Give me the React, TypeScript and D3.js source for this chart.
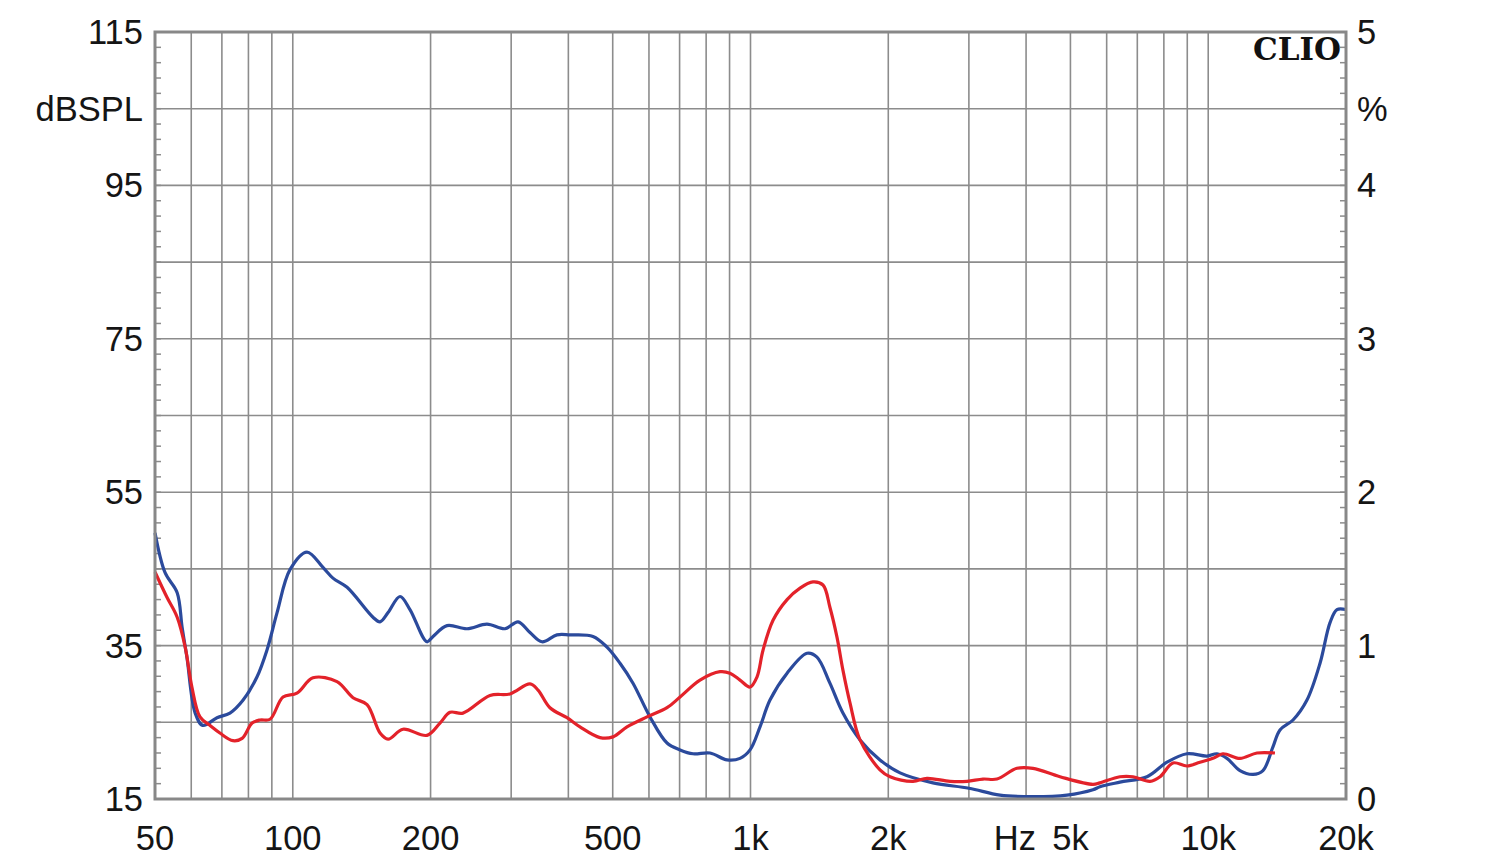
import React from "react";
import * as d3 from "d3";

// Frequency response (blue) and distortion-like curve (red), [Hz, dBSPL]
const blueCurve: [number, number][] = [
  [50, 49.7], [52.6, 44.5], [55.9, 41.9], [57.3, 37.4], [58.7, 33.5], [61.2, 26.2], [63.6, 24.6],
  [68.3, 25.6], [72.9, 26.2], [77.9, 27.9], [83.5, 30.9], [87.8, 34.4], [92.4, 39.3], [98.6, 44.9],
  [107.4, 47.2], [116.4, 45.2], [122.4, 43.8], [131.4, 42.6], [149.7, 38.7], [155.1, 38.1],
  [161.5, 39.3], [171.5, 41.4], [180.3, 39.7], [196.4, 35.5], [202.5, 36.2], [217.3, 37.6],
  [240.2, 37.2], [265.6, 37.8], [290.8, 37.2], [310.6, 38.1], [329.8, 36.7], [350.3, 35.5],
  [377.7, 36.4], [403.3, 36.4], [452.8, 36.2], [485.8, 34.8], [518.7, 32.7], [553.7, 30.1],
  [603.2, 25.7], [657.1, 22.3], [701.5, 21.4], [748.9, 20.9], [815.8, 21.0], [888.6, 20.1],
  [948.6, 20.3], [997.7, 21.4], [1049, 24.4], [1103, 27.9], [1202, 31.4], [1329, 34.0],
  [1397, 33.5], [1491, 30.1], [1592, 26.2], [1735, 22.7], [1918, 20.1], [2122, 18.4],
  [2504, 17.1], [3001, 16.4], [3509, 15.5], [4141, 15.3], [4914, 15.5], [5600, 16.2],
  [5800, 16.6], [6414, 17.2], [7348, 17.9], [8127, 19.8], [8987, 20.9], [9938, 20.6],
  [10450, 20.9], [10989, 20.3], [11732, 18.7], [12526, 18.2], [13171, 18.7], [13850, 21.8],
  [14347, 24.0], [15320, 25.3], [16435, 27.9], [17550, 32.7], [18455, 38.0], [19115, 39.7],
  [20000, 39.7],
];

const redCurve: [number, number][] = [
  [50, 44.6], [53.1, 41.3], [55.9, 38.7], [58.2, 34.8], [60.2, 29.6], [62.7, 25.7], [65.9, 24.6],
  [69.3, 23.6], [74.0, 22.6], [77.5, 22.9], [81.5, 24.9], [84.8, 25.3], [89.2, 25.4], [95.2, 28.3],
  [102.1, 28.8], [110.7, 30.8], [124.9, 30.3], [135.4, 28.2], [145.3, 27.3], [155.1, 23.6],
  [161.5, 22.8], [174.1, 24.1], [196.4, 23.3], [209.7, 24.9], [220.6, 26.3], [235.4, 26.2],
  [269.6, 28.5], [298.2, 28.7], [329.8, 30.0], [343.4, 29.2], [364.6, 26.9], [397.2, 25.6],
  [424.1, 24.4], [469, 23.0], [500.7, 23.1], [537.2, 24.4], [594.1, 25.7], [657.1, 26.9],
  [701.5, 28.3], [775.6, 30.5], [857.8, 31.6], [902, 31.4], [948.6, 30.5], [997.7, 29.6],
  [1033, 30.9], [1065, 34.4], [1120, 38.3], [1202, 41.0], [1283, 42.5], [1369, 43.3],
  [1440, 42.9], [1491, 40.0], [1545, 36.1], [1592, 31.8], [1650, 27.5], [1735, 22.7],
  [1918, 18.8], [2018, 17.9], [2265, 17.3], [2430, 17.7], [2728, 17.3], [2971, 17.3],
  [3221, 17.6], [3455, 17.6], [3820, 19.0], [4141, 19.0], [4744, 17.9], [5600, 16.9],
  [5800, 17.1], [6414, 17.9], [6849, 17.9], [7462, 17.3], [7848, 17.9], [8375, 19.7],
  [8987, 19.3], [9593, 19.8], [10240, 20.3], [10770, 20.9], [11732, 20.3], [12780, 21.0],
  [13990, 21.0],
];

const freqGrid = [60, 70, 80, 90, 100, 200, 300, 400, 500, 600, 700, 800, 900, 1000,
  2000, 3000, 4000, 5000, 6000, 7000, 8000, 9000, 10000];
const freqLabels: [number, string][] = [
  [50, "50"], [100, "100"], [200, "200"], [500, "500"], [1000, "1k"], [2000, "2k"],
  [3780, "Hz"], [5000, "5k"], [10000, "10k"], [20000, "20k"],
];
const dbGrid = [25, 35, 45, 55, 65, 75, 85, 95, 105];
const dbLabels: [number, string][] = [
  [115, "115"], [105, "dBSPL"], [95, "95"], [75, "75"], [55, "55"], [35, "35"], [15, "15"],
];
const pctLabels: [number, string][] = [
  [5, "5"], [4.5, "%"], [4, "4"], [3, "3"], [2, "2"], [1, "1"], [0, "0"],
];
const minorDb = d3.range(17, 115, 2);

export default function App() {
  const W = 1500, H = 864;
  const L = 155, R = 1346, T = 32, B = 799;
  const x = d3.scaleLog().domain([50, 20000]).range([L, R]);
  const y = d3.scaleLinear().domain([15, 115]).range([B, T]);
  const yR = d3.scaleLinear().domain([0, 5]).range([B, T]);
  const line = d3
    .line<[number, number]>()
    .x((d) => x(d[0]))
    .y((d) => y(d[1]))
    .curve(d3.curveCatmullRom.alpha(0.5));

  const gridColor = "#8c8c8c";
  const font = "'Liberation Sans', Arial, sans-serif";
  const textColor = "#151515";
  const fs = 34.5;

  return (
    <svg
      width={W}
      height={H}
      style={{ position: "absolute", left: 0, top: 0, background: "#fff" }}
    >
      <rect x={0} y={0} width={W} height={H} fill="#fff" />
      {freqGrid.map((f) => (
        <line key={"vf" + f} x1={x(f)} x2={x(f)} y1={T} y2={B} stroke={gridColor} strokeWidth={1.6} />
      ))}
      {dbGrid.map((v) => (
        <line key={"hd" + v} x1={L} x2={R} y1={y(v)} y2={y(v)} stroke={gridColor} strokeWidth={1.6} />
      ))}
      {minorDb.map((v) => (
        <g key={"mt" + v}>
          <line x1={L} x2={L + 6} y1={y(v)} y2={y(v)} stroke={gridColor} strokeWidth={1.5} />
          <line x1={R - 6} x2={R} y1={y(v)} y2={y(v)} stroke={gridColor} strokeWidth={1.5} />
        </g>
      ))}
      <path d={line(blueCurve) || ""} fill="none" stroke="#2b4a9c" strokeWidth={3.2} strokeLinejoin="round" />
      <path d={line(redCurve) || ""} fill="none" stroke="#e3222a" strokeWidth={3.2} strokeLinejoin="round" />
      <rect x={L} y={T} width={R - L} height={B - T} fill="none" stroke="#888" strokeWidth={3} />
      {dbLabels.map(([v, t]) => (
        <text key={"dl" + t} x={143} y={y(v)} textAnchor="end" dominantBaseline="central"
          fontFamily={font} fontSize={fs} fill={textColor}>
          {t}
        </text>
      ))}
      {pctLabels.map(([v, t]) => (
        <text key={"pl" + t} x={1357} y={yR(v)} textAnchor="start" dominantBaseline="central"
          fontFamily={font} fontSize={fs} fill={textColor}>
          {t}
        </text>
      ))}
      {freqLabels.map(([f, t]) => (
        <text key={"fl" + t} x={x(f)} y={850} textAnchor="middle"
          fontFamily={font} fontSize={fs} fill={textColor}>
          {t}
        </text>
      ))}
      <text x={1341} y={60} textAnchor="end" fontFamily="'DejaVu Serif', 'Liberation Serif', serif"
        fontWeight="bold" fontSize={31} fill="#111">
        CLIO
      </text>
    </svg>
  );
}
